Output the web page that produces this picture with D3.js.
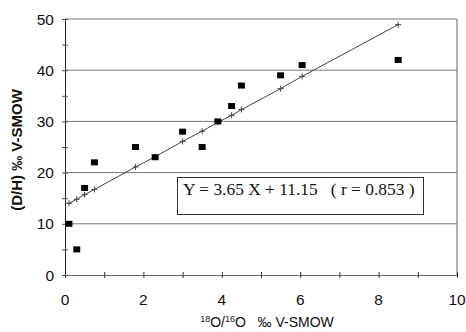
<!DOCTYPE html>
<html>
<head>
<meta charset="utf-8">
<script src="https://cdn.jsdelivr.net/npm/d3@7"></script>
<style>
  body { margin: 0; background: #fff; }
  svg { display: block; }
</style>
</head>
<body>
<div id="chart"></div>
<script>
// observed samples (x = 18O/16O, y = D/H)
const sampleX = [0.1, 0.3, 0.5, 0.75, 1.8, 2.3, 3.0, 3.5, 3.9, 4.25, 4.5, 5.5, 6.05, 8.5];
const sampleY = [10, 5, 17, 22, 25, 23, 28, 25, 30, 33, 37, 39, 41, 42];
// fitted values
const fitY = [14.0, 14.8, 15.7, 16.7, 21.1, 23.1, 26.1, 28.1, 29.8, 31.2, 32.3, 36.4, 38.8, 48.9];
const xTicks = [0, 2, 4, 6, 8, 10];
const yTicks = [0, 10, 20, 30, 40, 50];
const equation = "Y = 3.65 X + 11.15   ( r = 0.853 )";

const W = 466, H = 332;
const m = { left: 65, right: 9, top: 19, bottom: 57 };

const svg = d3.select('#chart').append('svg')
    .attr('width', W).attr('height', H);

const x = d3.scaleLinear().domain([0, 10]).range([m.left, W - m.right]);
const y = d3.scaleLinear().domain([0, 50]).range([H - m.bottom, m.top]);

// gridlines
svg.append('g').selectAll('line')
    .data(yTicks.filter(d => d > 0))
    .join('line')
    .attr('x1', x(0)).attr('x2', x(10))
    .attr('y1', d => y(d)).attr('y2', d => y(d))
    .attr('stroke', '#777').attr('stroke-width', 1);

// right border
svg.append('line')
    .attr('x1', x(10)).attr('x2', x(10))
    .attr('y1', y(0)).attr('y2', y(50))
    .attr('stroke', '#666');

// axes
const xAxis = svg.append('g')
    .attr('transform', `translate(0,${y(0)})`)
    .call(d3.axisBottom(x).tickValues(d3.range(0, 11, 1)).tickSize(3).tickFormat(''));
xAxis.selectAll('.tick line').attr('y1', -3).attr('stroke', '#333');
xAxis.select('.domain').attr('stroke', '#666');

const yAxis = svg.append('g')
    .attr('transform', `translate(${x(0)},0)`)
    .call(d3.axisLeft(y).tickValues(d3.range(0, 51, 5)).tickSize(3).tickFormat(''));
yAxis.selectAll('.tick line').attr('x1', 3).attr('x2', -3).attr('stroke', '#555');
yAxis.select('.domain').attr('stroke', '#222');

// tick labels
svg.append('g').selectAll('text')
    .data(xTicks).join('text')
    .attr('x', d => x(d)).attr('y', 305)
    .attr('text-anchor', 'middle')
    .attr('font-family', 'Liberation Sans, Arial, sans-serif')
    .attr('font-size', 15.5).attr('fill', '#111')
    .text(d => d);

svg.append('g').selectAll('text')
    .data(yTicks).join('text')
    .attr('x', 54).attr('y', d => y(d) + 5.5)
    .attr('text-anchor', 'end')
    .attr('font-family', 'Liberation Sans, Arial, sans-serif')
    .attr('font-size', 15.5).attr('fill', '#111')
    .text(d => d);

// regression line
const fitPts = sampleX.map((d, i) => [d, fitY[i]]);
svg.append('path')
    .datum(fitPts)
    .attr('d', d3.line().x(d => x(d[0])).y(d => y(d[1])))
    .attr('fill', 'none').attr('stroke', '#444').attr('stroke-width', 1);

svg.append('g').selectAll('path')
    .data(fitPts).join('path')
    .attr('d', d => `M${x(d[0]) - 3},${y(d[1])}h6M${x(d[0])},${y(d[1]) - 3}v6`)
    .attr('stroke', '#444').attr('stroke-width', 1);

// sample squares
svg.append('g').selectAll('rect')
    .data(sampleX.map((d, i) => [d, sampleY[i]]))
    .join('rect')
    .attr('x', d => x(d[0]) - 3.5).attr('y', d => y(d[1]) - 3)
    .attr('width', 7).attr('height', 6)
    .attr('fill', '#000');

// equation box
svg.append('rect')
    .attr('x', 177.5).attr('y', 177.5)
    .attr('width', 246).attr('height', 37)
    .attr('fill', '#fff').attr('stroke', '#333');
svg.append('text')
    .attr('x', 183).attr('y', 195)
    .attr('font-family', 'Liberation Serif, Times New Roman, serif')
    .attr('font-size', 17.4).attr('fill', '#111')
    .style('white-space', 'pre')
    .text(equation);

// axis titles
svg.append('text')
    .attr('transform', 'translate(22,150) rotate(-90)')
    .attr('text-anchor', 'middle')
    .attr('font-family', 'Liberation Sans, Arial, sans-serif')
    .attr('font-size', 15).attr('font-weight', 'bold').attr('fill', '#111')
    .text('(D/H) ‰ V-SMOW');

const xt = svg.append('text')
    .attr('x', 267).attr('y', 327)
    .attr('text-anchor', 'middle')
    .attr('font-family', 'Liberation Sans, Arial, sans-serif')
    .attr('font-size', 14).attr('fill', '#111')
    .style('white-space', 'pre');
xt.append('tspan').attr('font-size', 9).attr('dy', -5).text('18');
xt.append('tspan').attr('dy', 5).text('O/');
xt.append('tspan').attr('font-size', 9).attr('dy', -5).text('16');
xt.append('tspan').attr('dy', 5).text('O   ‰ V-SMOW');
</script>
</body>
</html>
